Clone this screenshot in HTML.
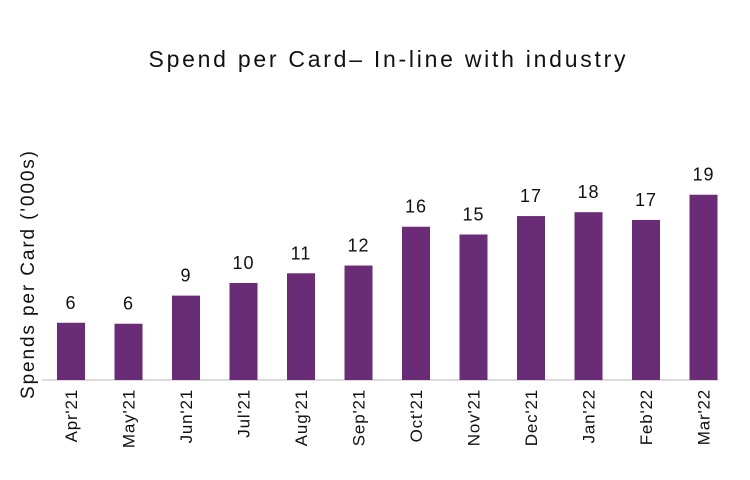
<!DOCTYPE html>
<html><head><meta charset="utf-8"><style>
html,body{margin:0;padding:0;background:#fff;}
svg{display:block;font-family:"Liberation Sans",sans-serif;}
</style></head><body>
<svg id="chart" width="750" height="480">
<text x="387" y="67" text-anchor="middle" font-size="23" fill="#111" textLength="477" lengthAdjust="spacing">Spend per Card– In-line with industry</text>
<text transform="translate(34,275) rotate(-90)" text-anchor="middle" font-size="19" fill="#111" textLength="248" lengthAdjust="spacing">Spends per Card ('000s)</text>
<line x1="42" y1="380" x2="718" y2="380" stroke="#d0d0d0" stroke-width="1.5"/>
<g id="bars"></g>
</svg>
<script>
const categories=["Apr'21","May'21","Jun'21","Jul'21","Aug'21","Sep'21","Oct'21","Nov'21","Dec'21","Jan'22","Feb'22","Mar'22"];
const values=[5.9,5.8,8.7,10.0,11.0,11.8,15.8,15.0,16.9,17.3,16.5,19.1];
const valueLabels=["6","6","9","10","11","12","16","15","17","18","17","19"];
const baseY=380, pxPerUnit=9.7, x0=71, step=57.5, bw=28;
function xScale(i){return x0+i*step;}
function yScale(v){return baseY-v*pxPerUnit;}
const g=document.getElementById('bars');
const ns="http://www.w3.org/2000/svg";
categories.forEach((c,i)=>{
  const cx=xScale(i), y=yScale(values[i]);
  const r=document.createElementNS(ns,'rect');
  r.setAttribute('x',cx-bw/2);r.setAttribute('y',y);r.setAttribute('width',bw);r.setAttribute('height',baseY-y);r.setAttribute('fill','#6b2c77');
  
  
  g.appendChild(r);
  const t=document.createElementNS(ns,'text');
  t.setAttribute('x',cx);t.setAttribute('y',y-14);t.setAttribute('text-anchor','middle');t.setAttribute('font-size','18');t.setAttribute('fill','#111');t.setAttribute('letter-spacing','1');
  t.textContent=valueLabels[i];
  
  
  g.appendChild(t);
  const l=document.createElementNS(ns,'text');
  l.setAttribute('transform','translate('+(cx+6)+',389) rotate(-90)');l.setAttribute('text-anchor','end');l.setAttribute('font-size','17');l.setAttribute('fill','#111');l.setAttribute('letter-spacing','0.8');
  l.textContent=c;
  
  
  g.appendChild(l);
});
</script>
</body></html>
